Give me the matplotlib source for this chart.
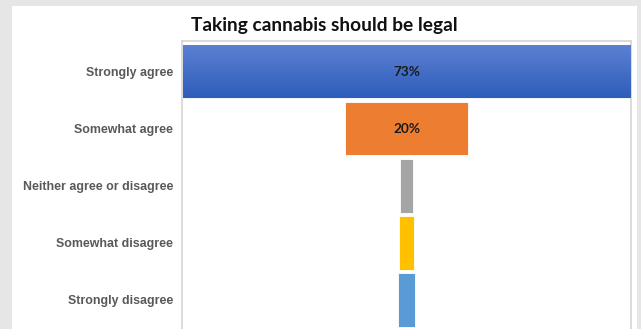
import numpy as np
import matplotlib
matplotlib.use("Agg")
import matplotlib.pyplot as plt
from matplotlib.patches import Rectangle
from matplotlib.colors import LinearSegmentedColormap

categories = ["Strongly agree", "Somewhat agree", "Neither agree or disagree",
              "Somewhat disagree", "Strongly disagree"]
shares = [73, 20, 2.1, 2.5, 2.8]
colors = ["#4472C4", "#ED7D31", "#A5A5A5", "#FFC000", "#5B9BD5"]

fig = plt.figure(figsize=(6.41, 3.29), dpi=100)
fig.patch.set_facecolor("#e6e6e6")

# white card behind the chart
W, H = 641, 329
fig.patches.append(Rectangle((12 / W, 0), (637 - 12) / W, 1 - 6 / H,
                             transform=fig.transFigure, facecolor="white",
                             edgecolor="none", zorder=-5))

ax = fig.add_axes([182 / W, -1 / H, (631 - 182) / W, (330 - 41) / H])
ax.set_facecolor("white")

y = np.arange(len(categories))
half = max(shares) / 2
bars = ax.barh(y, shares, left=[-s / 2 for s in shares], height=0.94,
               color=colors, edgecolor="white", linewidth=0.6, zorder=2)

# vertical gradient on the top bar, lighter at the top
grad = LinearSegmentedColormap.from_list("blu", ["#5c81d2", "#2e5dbb"])
b0 = bars[0]
x0, y0 = b0.get_x(), b0.get_y()
img = ax.imshow(np.linspace(0, 1, 64).reshape(-1, 1), cmap=grad, aspect="auto",
                extent=(x0, x0 + b0.get_width(), y0 + b0.get_height(), y0),
                origin="upper", zorder=3)
img.set_clip_path(b0)

for yi, s in zip(y, shares):
    if s >= 10:
        ax.text(0, yi, f"{s:.0f}%", ha="center", va="center", fontsize=9.8,
                fontweight="bold", family="Lato", color="#1a1a1a", zorder=4)

ax.set_xlim(-half - 0.1, half + 0.1)
ax.set_ylim(4.526, -0.535)
ax.set_yticks(y)
ax.set_yticklabels(categories, family="Liberation Sans", fontweight="bold",
                   fontsize=8.9, color="#595959")
ax.tick_params(axis="y", length=0, pad=6.5)
ax.set_xticks([])
for side in ["left", "right", "top", "bottom"]:
    ax.spines[side].set_color("#d4d4d4")
    ax.spines[side].set_linewidth(1.2)

fig.text(324 / W, 1 - 31.5 / H, "Taking cannabis should be legal", ha="center",
         va="baseline", fontsize=13.8, fontweight="bold", family="Lato",
         color="#111111")

fig.savefig("out.png", dpi=100, facecolor=fig.get_facecolor())
